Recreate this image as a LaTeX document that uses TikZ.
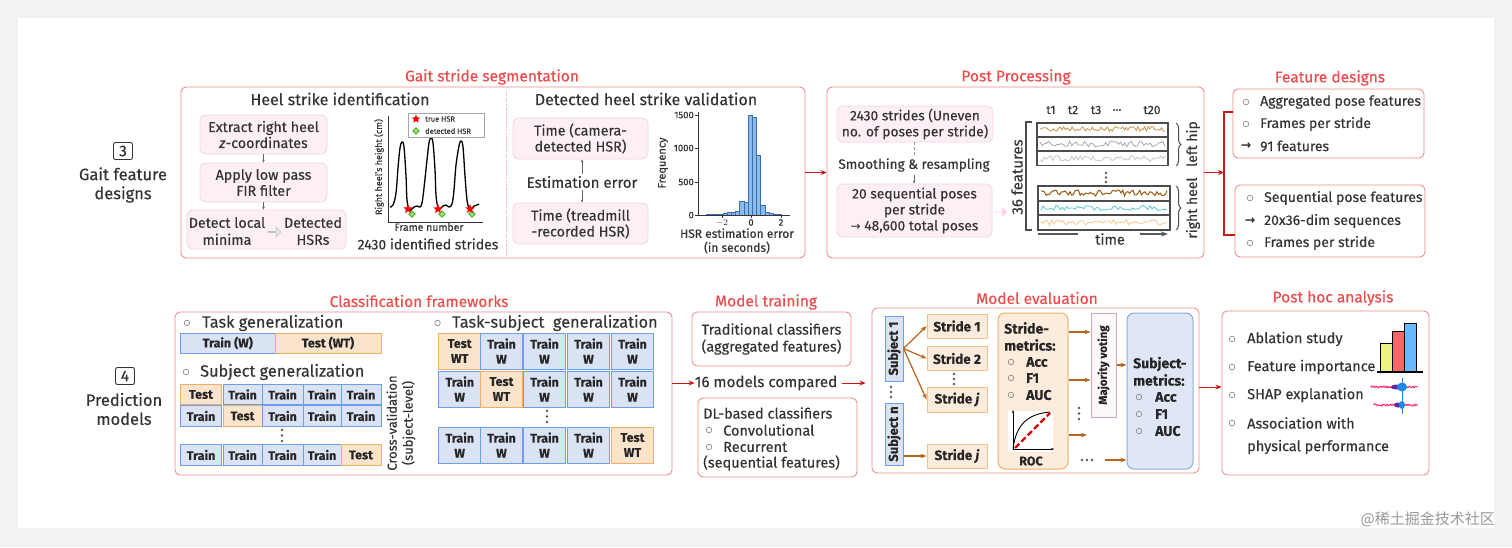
\documentclass[tikz,border=0pt]{standalone}
\usepackage{fontspec}
\setmainfont{Fira Sans}[FakeBold=0.25]
\newfontfamily\cjkfont{Noto Sans CJK SC}
\newfontfamily\symfont{DejaVu Sans}
\usetikzlibrary{arrows.meta,shapes.geometric,shapes.arrows,decorations.pathreplacing,calc}
\newcommand\fsz[2]{\fontsize{#1}{#2}\selectfont}
\definecolor{bggray}{HTML}{F2F2F2}
\definecolor{boxred}{HTML}{F08C8C}
\definecolor{titlered}{HTML}{F04B4B}
\definecolor{arrred}{HTML}{CC1515}
\definecolor{txt}{HTML}{333333}
\definecolor{pinkfill}{HTML}{FDF0F3}
\definecolor{pinkdraw}{HTML}{F7D4DD}
\definecolor{bluefill}{HTML}{DAE3F4}
\definecolor{bluedraw}{HTML}{6D9EEB}
\definecolor{orfill}{HTML}{FCE4CC}
\definecolor{ordraw}{HTML}{F0B068}
\definecolor{arrbrown}{HTML}{B5651D}
\definecolor{histfill}{HTML}{8BBBEA}
\definecolor{histdraw}{HTML}{3A6FB0}
\definecolor{mvdraw}{HTML}{D9A3C4}
\definecolor{sxfill}{HTML}{DFE7F6}
\definecolor{sxdraw}{HTML}{8AABE0}
\definecolor{shapmag}{HTML}{FF0D57}
\definecolor{shapblue}{HTML}{1E88E5}
\definecolor{sig1}{HTML}{C8954A}
\definecolor{sig2}{HTML}{A8A8A8}
\definecolor{sig3}{HTML}{C4C4C4}
\definecolor{sig4}{HTML}{9B5A12}
\definecolor{sig5}{HTML}{5CC8D0}
\definecolor{sig6}{HTML}{F8C890}
\definecolor{hsrgreen}{HTML}{8EE35A}
\tikzset{
  bigbox/.style={draw=boxred, line width=0.9pt, rounded corners=5pt, inner sep=0pt},
  ttl/.style={text=titlered, font=\fsz{15.5}{18}, inner sep=0pt},
  hdr/.style={text=txt, font=\fsz{16}{19}, inner sep=0pt},
  txtn/.style={text=txt, font=\fsz{14.3}{16.5}, align=center, inner sep=0pt},
  itemtxt/.style={text=txt, font=\fsz{14}{16}, anchor=west, inner sep=0pt},
  small/.style={text=txt, font=\fsz{9.5}{11}, inner sep=0pt},
  pinkbox/.style={fill=pinkfill, draw=pinkdraw, line width=0.8pt, rounded corners=6pt, text=txt, font=\fsz{14.3}{16}, align=center, inner sep=0pt},
  traincell/.style={fill=bluefill, draw=bluedraw, line width=1pt, text=black!85, font=\fsz{12.5}{15}\bfseries, align=center, inner sep=0pt},
  testcell/.style={fill=orfill, draw=ordraw, line width=1pt, text=black!85, font=\fsz{12.5}{15}\bfseries, align=center, inner sep=0pt},
  stridebox/.style={fill=orfill!70, draw=ordraw!80, line width=0.9pt, text=black!85, font=\fsz{13.5}{15}\bfseries, inner sep=0pt},
  boldt/.style={text=black!85, font=\fsz{14}{16}\bfseries, inner sep=0pt},
  subjbox/.style={fill=bluefill, draw=bluedraw, line width=1pt, inner sep=0pt},
  smallarr/.style={-{Stealth[length=3pt,width=2.6pt]}, draw=gray!80!black, line width=0.6pt},
  redarr/.style={-{Stealth[length=6pt,width=5pt]}, draw=arrred, line width=1pt},
  brarr/.style={-{Stealth[length=6pt,width=4.5pt]}, draw=arrbrown, line width=1.2pt},
  strip/.style={draw=black!70, line width=1.1pt, fill=white, inner sep=0pt},
  bul/.style={draw=gray!90, line width=0.7pt},
  dotf/.style={fill=black!65},
}
\begin{document}
\begin{tikzpicture}[x=1pt,y=-1pt]
\useasboundingbox (0,0) rectangle (1512,547);
\fill[bggray] (0,0) rectangle (1512,547);
\fill[white] (18,18) rectangle (1494,528);
\node[anchor=east, text=black!40, font=\cjkfont\fsz{15}{18}, inner sep=0pt] (wm) at (1495,519) {@稀土掘金技术社区};

% ---------- left labels
\node[draw=txt, line width=0.9pt, rounded corners=2pt, minimum width=19, minimum height=17, inner sep=0pt, text=txt, font=\fsz{15.5}{18}] (n3) at (123,151) {3};
\node[txtn, font=\fsz{16.5}{19}] (l3) at (123,185) {Gait feature\\designs};
\node[draw=txt, line width=0.9pt, rounded corners=2pt, minimum width=19, minimum height=17, inner sep=0pt, text=txt, font=\fsz{15.5}{18}] (n4) at (125,376) {4};
\node[txtn, font=\fsz{16.5}{19}] (l4) at (124,409) {Prediction\\models};

% ========== TOP ROW ==========
\node[ttl] (t1) at (492,77) {Gait stride segmentation};
\node[bigbox, minimum width=624, minimum height=171] (B1) at (493,172.5) {};
\draw[boxred!60, densely dotted, line width=0.7pt] (506,90) -- (506,256);

\node[hdr] (h1) at (340,99) {Heel strike identification};
\node[pinkbox, minimum width=127, minimum height=39] (p1) at (263.5,134.5) {Extract right heel\\\textit{z}-coordinates};
\node[pinkbox, minimum width=127, minimum height=39] (p2) at (263.5,182.5) {Apply low pass\\FIR filter};
\node[pinkbox, minimum width=159, minimum height=39] (p3) at (266.5,229.5) {};
\node[txtn, font=\fsz{14.3}{17}] (p3a) at (227,231) {Detect local\\minima};
\node[txtn, font=\fsz{14.3}{17}] (p3b) at (313,231) {Detected\\HSRs};
\node[single arrow, draw=gray!70, fill=gray!12, minimum height=13pt, minimum width=9pt, single arrow head extend=2pt, inner sep=0pt] (harr) at (274,232) {};
\draw[smallarr] (p1.south) -- (p2.north);
\draw[smallarr] (p2.south) -- (p3.north -| p2.south);

% heel plot
\draw[black!80, line width=0.6pt] (388,116) -- (388,222) -- (483,222);
\draw[black, line width=1.3pt] plot[smooth, tension=0.6] coordinates {(390,207) (393,205) (396,193) (398,168) (400,148) (402,142) (404,147) (406,176) (407,200) (409,209) (411,210) (414,207) (417,206) (420,207) (422,203) (424,188) (427,160) (429,143) (431,138) (433,143) (435,170) (436,195) (438,208) (440,209) (443,206) (446,205) (449,207) (452,204) (454,190) (456,165) (459,146) (461,141) (463,147) (465,176) (467,200) (469,208) (471,209) (474,206) (477,205) (479,204)};
\foreach \dx in {412,442,472} {\node[diamond, fill=hsrgreen, draw=green!45!black, line width=0.3pt, minimum size=7pt, inner sep=0pt] at (\dx,214) {};}
\foreach \sx in {408,438,470} {\node[star, star points=5, star point ratio=2.3, fill=red, minimum size=10pt, inner sep=0pt] at (\sx,209) {};}
\node[draw=gray!70, fill=white, line width=0.6pt, minimum width=76, minimum height=24, inner sep=0pt] (leg) at (446,125) {};
\node[star, star points=5, star point ratio=2.3, fill=red, minimum size=9pt, inner sep=0pt] (ls) at (416,119) {};
\node[diamond, fill=hsrgreen, draw=green!45!black, line width=0.3pt, minimum size=7pt, inner sep=0pt] (ld) at (416,131) {};
\node[anchor=west, font=\fsz{7.5}{9}, inner sep=0pt, text=txt] (lt1) at (425,119) {true HSR};
\node[anchor=west, font=\fsz{7.5}{9}, inner sep=0pt, text=txt] (lt2) at (425,131) {detected HSR};
\node[small, rotate=90, font=\fsz{9}{10}] (yl1) at (379,167) {Right heel's height (cm)};
\node[small, font=\fsz{10.5}{12}] (xl1) at (429,227) {Frame number};
\node[txtn, font=\fsz{14}{16}] (n2430) at (428,244) {2430 identified strides};

% validation
\node[hdr] (h2) at (646,99) {Detected heel strike validation};
\node[pinkbox, minimum width=135, minimum height=41] (v1) at (580.5,138.5) {Time (camera-\\detected HSR)};
\node[txtn, font=\fsz{15}{17}] (est) at (582,182) {Estimation error};
\node[pinkbox, minimum width=135, minimum height=41] (v2) at (580.5,223.5) {Time (treadmill\\-recorded HSR)};
\draw[smallarr] ([yshift=2pt]est.north) -- (v1.south -| est.north);
\draw[smallarr] ([yshift=-2pt]est.south) -- (v2.north -| est.south);

% histogram
\foreach \bx/\by in {706/214.6,710.2/214.4,714.4/214.2,718.6/213.8,722.8/213.3,727/212.6,731.2/211.8,735.4/211.5,739.6/200.7,743.8/201.7,748/115,752.2/116.7,756.4/155,760.6/205,764.8/212.3,769/213.6,773.2/214.2,777.4/214.6}
  {\draw[histdraw, fill=histfill, line width=0.4pt] (\bx,215) rectangle ++(4.2,\by-215);}
\draw[black!80, line width=0.6pt] (698,112) -- (698,215) -- (790,215);
\foreach \ty/\tl in {115/1500,148/1000,182/500,215/0} {
  \draw[black!80, line width=0.6pt] (698,\ty) -- (695,\ty);
  \node[small, anchor=east] at (694,\ty) {\tl};
}
\foreach \tx/\tl in {722/$-2$,751/0,781/2} {
  \draw[black!80, line width=0.6pt] (\tx,215) -- (\tx,218);
  \node[small, anchor=north] at (\tx,219) {\tl};
}
\node[small, rotate=90, font=\fsz{11}{13}] (yl2) at (663,163) {Frequency};
\node[txtn, font=\fsz{12}{14}] (xl2) at (737,241) {HSR estimation error\\(in seconds)};

% post processing
\node[ttl] (t2) at (1016,77) {Post Processing};
\node[bigbox, minimum width=377, minimum height=171] (B2) at (1015.5,172.5) {};
\draw[redarr] (B1.east) -- (B2.west);
\node[pinkbox, font=\fsz{13.8}{16}, minimum width=156, minimum height=36] (pp1) at (915,124) {2430 strides (Uneven\\no. of poses per stride)};
\node[txtn, font=\fsz{13.5}{16}] (smo) at (914,165) {Smoothing \& resampling};
\node[pinkbox, font=\fsz{13.8}{16}, minimum width=155, minimum height=53] (pp2) at (914.5,210.5) {20 sequential poses\\per stride\\{\symfont\fsz{12}{16}→} 48,600 total poses};
\draw[gray!80, line width=0.6pt, densely dashed] (pp1.south -| smo.north) -- ([yshift=3pt]smo.north);
\draw[smallarr] ([yshift=-3pt]smo.south) -- (pp2.north -| smo.south);
\node[single arrow, fill=pink!70!magenta!40, minimum height=12pt, minimum width=10pt, single arrow head extend=2.5pt, inner sep=0pt] (parr) at (1001,212) {};
\node[txtn, rotate=90, font=\fsz{15}{17}] (f36) at (1017,177) {36 features};
\draw[black!70, line width=1.1pt] (1032,122) -- (1026,122) -- (1026,230) -- (1032,230);
\foreach \tx/\tl in {1051/t1,1073/t2,1096/t3,1117/…,1152/t20} {\node[txtn, font=\fsz{12}{14}] at (\tx,110) {\tl};}
\node[strip, minimum width=131, minimum height=14] (s1) at (1102.5,130) {};
\node[strip, minimum width=131, minimum height=14] (s2) at (1102.5,144) {};
\node[strip, minimum width=131, minimum height=14.5] (s3) at (1102.5,158.5) {};
\node[strip, minimum width=132, minimum height=15] (s4) at (1104,193.5) {};
\node[strip, minimum width=132, minimum height=14] (s5) at (1104,208) {};
\node[strip, minimum width=132, minimum height=15] (s6) at (1104,222.5) {};
\pgfmathsetseed{11}
\draw[sig1, line width=0.8pt] plot[domain=1040:1165, samples=75] (\x, {129+2.6*rand});
\draw[sig2, line width=0.8pt] plot[domain=1040:1165, samples=60] (\x, {144+2.8*rand});
\draw[sig3, line width=0.8pt] plot[domain=1040:1165, samples=60] (\x, {158.5+3*rand});
\draw[sig4, line width=1pt] plot[domain=1041:1167, samples=75] (\x, {193+3*rand});
\draw[sig5, line width=0.8pt] plot[domain=1041:1167, samples=60] (\x, {208+2.6*rand});
\draw[sig6, line width=0.8pt] plot[domain=1041:1167, samples=60] (\x, {222.5+2.8*rand});
\foreach \dy in {173,177.5,182} {\fill[dotf] (1106,\dy) circle (1.3pt);}
\node[txtn, font=\fsz{14.5}{16}] (time) at (1110,239) {time};
\draw[black!65, line width=1.3pt] (1038,234) -- (1078,234);
\coordinate (ta1) at (1140,234); \coordinate (ta2) at (1168,234);
\draw[-{Stealth[length=7pt,width=5pt]}, black!65, line width=1.3pt] (ta1) -- (ta2);
\draw[black!70, line width=1pt, decorate, decoration={brace, amplitude=5pt}] (1176,123) -- (1176,166);
\draw[black!70, line width=1pt, decorate, decoration={brace, amplitude=5pt}] (1176,186) -- (1176,230);
\node[txtn, rotate=90, font=\fsz{14}{16}] (lhip) at (1193,144) {left hip};
\node[txtn, rotate=90, font=\fsz{14}{16}] (rheel) at (1193,208) {right heel};

% feature designs
\node[ttl] (t3) at (1330,78) {Feature designs};
\node[bigbox, minimum width=191, minimum height=69] (FA) at (1328.5,123.5) {};
\node[bigbox, minimum width=190, minimum height=72] (FB) at (1330,221) {};
\coordinate (bt) at (1224,112); \coordinate (bb) at (1224,235); \coordinate (bm) at (1224,172.5);
\draw[redarr] (B2.east) -- (bm);
\draw[arrred, line width=1.1pt] (FA.west |- bt) -- (bt) -- (bb) -- (FB.west |- bb);
\draw[bul] (1246,102) circle (2.8pt); \node[itemtxt] (fa1) at (1260,102) {Aggregated pose features};
\draw[bul] (1246,124) circle (2.8pt); \node[itemtxt] (fa2) at (1260,124) {Frames per stride};
\node[text=txt, font=\symfont\fsz{12.5}{14}\bfseries, inner sep=0pt] at (1246,146) {→}; \node[itemtxt] (fa3) at (1260,146) {91 features};
\draw[bul] (1250,198) circle (2.8pt); \node[itemtxt] (fb1) at (1264,198) {Sequential pose features};
\node[text=txt, font=\symfont\fsz{12.5}{14}\bfseries, inner sep=0pt] at (1250,221) {→}; \node[itemtxt] (fb2) at (1264,221) {20x36-dim sequences};
\draw[bul] (1250,243) circle (2.8pt); \node[itemtxt] (fb3) at (1264,243) {Frames per stride};

% ========== BOTTOM ROW ==========
\node[ttl] (t4) at (419,301) {Classification frameworks};
\node[bigbox, minimum width=497, minimum height=163] (CF) at (423.5,393.5) {};
\draw[bul] (187,323) circle (2.8pt); \node[itemtxt, font=\fsz{16.3}{18}] (tg) at (202,323) {Task generalization};
\node[traincell, minimum width=94.5, minimum height=20] (tgw) at (227.75,343) {Train (W)};
\node[testcell, minimum width=106, minimum height=20] (tgt) at (328,343) {Test (WT)};
\draw[bul] (186,372) circle (2.8pt); \node[itemtxt, font=\fsz{16.3}{18}] (sgh) at (200,372) {Subject generalization};
\foreach \r/\yy/\tc in {1/394.5/1,2/416/2,3/455/5} {
  \foreach \c/\xx/\ww in {1/201/40.5,2/242.5/39,3/282.5/41,4/322/38,5/361/40} {
    \ifnum\c=\tc
      \node[testcell, minimum width=\ww, minimum height=20.5] (sg-\r-\c) at (\xx,\yy) {Test};
    \else
      \node[traincell, minimum width=\ww, minimum height=20.5] (sg-\r-\c) at (\xx,\yy) {Train};
    \fi
  }
}
\foreach \dy in {430,435.5,441} {\fill[dotf] (282,\dy) circle (1.4pt);}
\node[txtn, rotate=90, font=\fsz{13}{16}] (cv) at (401,423) {Cross-validation\\(subject-level)};
\draw[bul] (437.5,323) circle (2.8pt); \node[itemtxt, font=\fsz{16.3}{18}] (tsg) at (452,323) {Task-subject\ \ generalization};
\foreach \r/\yy/\tc in {1/351/1,2/389/2,3/445/5} {
  \foreach \c/\xx in {1/459.7,2/501.5,3/544.5,4/588.5,5/632.5} {
    \ifnum\c=\tc
      \node[testcell, minimum width=42, minimum height=36] (ts-\r-\c) at (\xx,\yy) {Test\\WT};
    \else
      \node[traincell, minimum width=42, minimum height=36] (ts-\r-\c) at (\xx,\yy) {Train\\W};
    \fi
  }
}
\foreach \dy in {411,416.5,422} {\fill[dotf] (547,\dy) circle (1.4pt);}

% model training
\node[ttl] (t5) at (766,302) {Model training};
\node[bigbox, minimum width=159, minimum height=54, txtn, font=\fsz{14.5}{17}] (mt1) at (771.5,339) {Traditional classifiers\\(aggregated features)};
\node[txtn, font=\fsz{15.2}{17}] (m16) at (766,383) {16 models compared};
\draw[redarr] (CF.east |- m16) -- (m16.west);
\node[bigbox, minimum width=159, minimum height=79] (mt2) at (777.5,437.5) {};
\node[itemtxt, font=\fsz{14.5}{16}] (d1) at (703,413) {DL-based classifiers};
\draw[bul] (709,430) circle (2.8pt); \node[itemtxt, font=\fsz{14.5}{16}] (d2) at (723,430) {Convolutional};
\draw[bul] (709,447) circle (2.8pt); \node[itemtxt, font=\fsz{14.5}{16}] (d3) at (723,447) {Recurrent};
\node[itemtxt, font=\fsz{14.5}{16}] (d4) at (703,463) {(sequential features)};

% model evaluation
\node[ttl] (t6) at (1037,298) {Model evaluation};
\node[bigbox, minimum width=327, minimum height=165] (ME) at (1035.5,390.5) {};
\draw[redarr] ([xshift=5pt]m16.east) -- ([xshift=-6pt]ME.west |- m16);
\node[subjbox, minimum width=18, minimum height=65] (S1) at (894,348.5) {};
\node[rotate=90, text=black!85, font=\fsz{13}{15}\bfseries, inner sep=0pt] at (S1) {Subject 1};
\node[subjbox, minimum width=18, minimum height=62] (Sn) at (894,434) {};
\node[rotate=90, text=black!85, font=\fsz{13}{15}\bfseries, inner sep=0pt] at (Sn) {Subject n};
\foreach \dy in {387,392,397} {\fill[dotf] (891,\dy) circle (1.3pt);}
\node[stridebox, minimum width=60, minimum height=24] (st1) at (957,326) {Stride 1};
\node[stridebox, minimum width=60, minimum height=24] (st2) at (957,358.5) {Stride 2};
\node[stridebox, minimum width=60, minimum height=25] (stj) at (957,399.5) {Stride \textit{j}};
\node[stridebox, minimum width=60, minimum height=24] (stj2) at (957,456) {Stride \textit{j}};
\foreach \dy in {374,379,384} {\fill[dotf] (954,\dy) circle (1.3pt);}
\draw[brarr] (S1.east) -- (st1.west);
\draw[brarr] (S1.east) -- (st2.west);
\draw[brarr] (S1.east) -- (stj.west);
\draw[brarr] (Sn.east |- stj2) -- (stj2.west);
\node[fill=orfill!70, draw=ordraw, line width=1pt, rounded corners=7pt, minimum width=70, minimum height=156, inner sep=0pt] (SM) at (1033,391) {};
\node[boldt, anchor=west] at (1004,328) {Stride-};
\node[boldt, anchor=west] at (1004,345) {metrics:};
\foreach \yy/\tl in {362/Acc,378/F1,395/AUC} {
  \draw[bul] (1011,\yy) circle (2.8pt);
  \node[boldt, anchor=west] at (1026,\yy) {\tl};
}
\fill[white] (1008,411) rectangle (1053,452);
\draw[black, line width=0.9pt, -{Stealth[length=3pt]}] (1013,449) -- (1013,410);
\draw[black, line width=0.9pt, -{Stealth[length=3pt]}] (1013,449) -- (1054,449);
\draw[black, line width=0.9pt] (1013,449) .. controls (1016,424) and (1028,414) .. (1050,412);
\draw[red!85!black, line width=2.2pt, dash pattern=on 6pt off 3pt] (1015,448) -- (1050,413);
\node[boldt, font=\fsz{12.5}{14}\bfseries] (roc) at (1031,461) {ROC};
\node[fill=pinkfill!50, draw=mvdraw, line width=1pt, minimum width=25, minimum height=104, inner sep=0pt] (MV) at (1103.5,365) {};
\node[rotate=90, text=black!85, font=\fsz{11.5}{14}\bfseries, inner sep=0pt] at (MV) {Majority voting};
\draw[brarr] ([yshift=59pt]SM.east) -- ([yshift=33pt]MV.west);
\draw[brarr] ([yshift=11pt]SM.east) -- ([yshift=-15pt]MV.west);
\coordinate (fe1) at (1087,435);
\draw[brarr] (SM.east |- fe1) -- (fe1);
\foreach \dy in {408,413.5,419} {\fill[dotf] (1079,\dy) circle (1.3pt);}
\node[fill=sxfill, draw=sxdraw, line width=1pt, rounded corners=7pt, minimum width=66, minimum height=156, inner sep=0pt] (SX) at (1160,391) {};
\draw[brarr] (MV.east) -- (SX.west |- MV.east);
\node[boldt, anchor=west] at (1133,364) {Subject-};
\node[boldt, anchor=west] at (1133,380) {metrics:};
\foreach \yy/\tl in {397/Acc,414/F1,431/AUC} {
  \draw[bul] (1139,\yy) circle (2.8pt);
  \node[boldt, anchor=west] at (1155,\yy) {\tl};
}
\foreach \dx in {1082,1087,1092} {\fill[dotf] (\dx,460) circle (1.3pt);}
\coordinate (fe2) at (1105,460);
\draw[brarr] (fe2) -- (SX.west |- fe2);

% post hoc
\node[ttl] (t7) at (1333,298) {Post hoc analysis};
\node[bigbox, minimum width=207, minimum height=164] (PH) at (1325.5,393) {};
\draw[redarr] ([yshift=3.5pt]ME.east) -- ([yshift=6pt]PH.west);
\draw[bul] (1232,339) circle (2.8pt); \node[itemtxt, font=\fsz{14.5}{16}] (ph1) at (1247,339) {Ablation study};
\draw[bul] (1232,367) circle (2.8pt); \node[itemtxt, font=\fsz{14.5}{16}] (ph2) at (1247,367) {Feature importance};
\draw[bul] (1232,395) circle (2.8pt); \node[itemtxt, font=\fsz{14.5}{16}] (ph3) at (1247,395) {SHAP explanation};
\draw[bul] (1232,423) circle (2.8pt); \node[itemtxt, font=\fsz{14.5}{16}] (ph4) at (1247,423) {Association with};
\node[itemtxt, font=\fsz{14.5}{16}] (ph5) at (1247,447) {physical performance};
\draw[black, line width=0.6pt, fill=yellow!45!lime!50!white] (1380,372) rectangle (1392,343);
\draw[black, line width=0.6pt, fill=red!60!white] (1392,372) rectangle (1404,331);
\draw[black, line width=0.6pt, fill=blue!45!cyan!60!white] (1404,372) rectangle (1416,323);
\draw[black, line width=1.6pt] (1377,372) -- (1423,372);
\pgfmathsetseed{5}
\foreach \i in {0,...,46} {\fill[shapmag] ({1371+\i*1.0},{387+0.9*rand}) circle (0.8pt);}
\foreach \i in {0,...,43} {\fill[shapmag] ({1374+\i*1.0},{405+0.9*rand}) circle (0.8pt);}
\fill[violet!70!shapblue] (1396,387) ellipse (5pt and 2.5pt);
\fill[shapblue] (1402,387) ellipse (5pt and 4.5pt);
\draw[shapblue, line width=0.8pt] (1402,378) -- (1402,396);
\fill[shapblue] (1413,387) circle (1pt);
\fill[violet!70!shapblue] (1398,405) ellipse (4pt and 2.5pt);
\fill[shapblue] (1402,405) ellipse (3pt and 4pt);
\draw[shapblue, line width=0.8pt] (1402,396) -- (1402,414);
\end{tikzpicture}
\end{document}
